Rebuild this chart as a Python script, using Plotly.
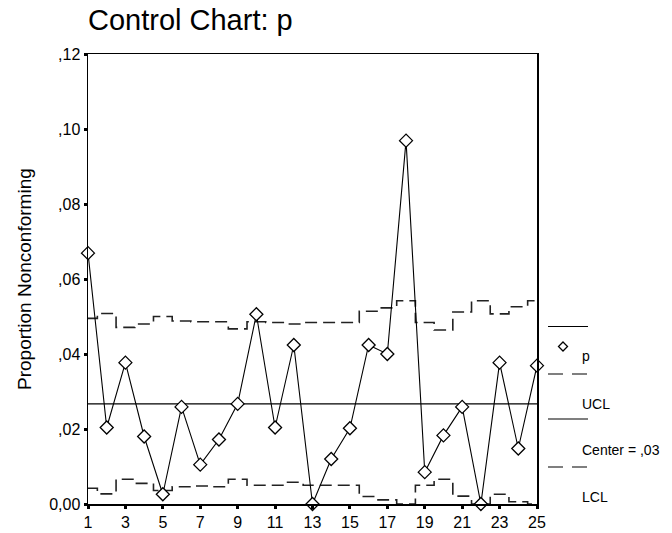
import plotly.graph_objects as go

# ---- data ----
subgroups = list(range(1, 26))
p_values = [0.0669, 0.0204, 0.0377, 0.0180, 0.0026, 0.0259, 0.0105, 0.0172, 0.0267, 0.0506,
            0.0204, 0.0424, 0.0000, 0.0120, 0.0202, 0.0424, 0.0400, 0.0969, 0.0085, 0.0183,
            0.0259, 0.0000, 0.0377, 0.0148, 0.0369]
ucl_values = [0.0495, 0.0508, 0.0471, 0.0480, 0.0500, 0.0488, 0.0486, 0.0486, 0.0467, 0.0486,
              0.0484, 0.0480, 0.0484, 0.0484, 0.0484, 0.0514, 0.0523, 0.0542, 0.0484, 0.0464,
              0.0512, 0.0542, 0.0507, 0.0526, 0.0542]
lcl_values = [0.0042, 0.0027, 0.0066, 0.0055, 0.0036, 0.0046, 0.0048, 0.0046, 0.0066, 0.0050,
              0.0050, 0.0058, 0.0050, 0.0050, 0.0050, 0.0020, 0.0011, 0.0000, 0.0050, 0.0066,
              0.0021, 0.0000, 0.0026, 0.0006, 0.0000]
center_value = 0.0267

x_tickvals = [1, 3, 5, 7, 9, 11, 13, 15, 17, 19, 21, 23, 25]
x_ticktext = ["1", "3", "5", "7", "9", "11", "13", "15", "17", "19", "21", "23", "25"]
y_tickvals = [0.00, 0.02, 0.04, 0.06, 0.08, 0.10, 0.12]
y_ticktext = ["0,00", ",02", ",04", ",06", ",08", ",10", ",12"]

title_text = "Control Chart: p"
y_title = "Proportion Nonconforming"
legend_labels = ["p", "UCL", "Center = ,03", "LCL"]

FONT = "Liberation Sans, Arial, sans-serif"
DASH = "12px,6px"

# page layout (body margin removed by post_script, figure fills the window)
PLOT_L, PLOT_R, PLOT_T, PLOT_B = 88, 537, 54, 504
FIG_W, FIG_H = 672, 533
PW, PH = PLOT_R - PLOT_L, PLOT_B - PLOT_T


def px(xp):
    return (xp - PLOT_L) / PW


def py(yp):
    return (PLOT_B - yp) / PH


fig = go.Figure()

fig.add_trace(go.Scatter(x=subgroups, y=ucl_values, mode="lines", line_shape="hvh",
                         line=dict(color="#222", width=1.6, dash=DASH), hoverinfo="skip"))
fig.add_trace(go.Scatter(x=subgroups, y=lcl_values, mode="lines", line_shape="hvh",
                         line=dict(color="#222", width=1.6, dash=DASH), hoverinfo="skip"))
fig.add_trace(go.Scatter(x=[subgroups[0], subgroups[-1]], y=[center_value, center_value],
                         mode="lines", line=dict(color="black", width=1.2), hoverinfo="skip"))
fig.add_trace(go.Scatter(x=subgroups, y=p_values, mode="lines+markers",
                         line=dict(color="black", width=1.1),
                         marker=dict(symbol="diamond", size=10, color="white",
                                     line=dict(color="black", width=1.3)),
                         cliponaxis=False))

shapes = []
for yy, dash in [(326.5, "solid"), (374, "15px,9px"), (419, "solid"), (467, "15px,9px")]:
    shapes.append(dict(type="line", xref="paper", yref="paper", x0=px(548), x1=px(588),
                       y0=py(yy), y1=py(yy), line=dict(color="black", width=1.2, dash=dash)))
# legend diamond
cx, cy, r = 563, 346.5, 4.5
path = "M {} {} L {} {} L {} {} L {} {} Z".format(
    px(cx), py(cy - r), px(cx + r), py(cy), px(cx), py(cy + r), px(cx - r), py(cy))
shapes.append(dict(type="path", xref="paper", yref="paper", path=path,
                   fillcolor="white", line=dict(color="black", width=1.3)))

annotations = [
    dict(text=title_text, xref="paper", yref="paper", x=px(86), y=py(20),
         xanchor="left", yanchor="middle", showarrow=False,
         font=dict(family=FONT, size=29, color="black")),
    dict(text=y_title, xref="paper", yref="paper", x=px(24), y=py(279), textangle=-90,
         xanchor="center", yanchor="middle", showarrow=False,
         font=dict(family=FONT, size=19, color="black")),
]
for label, yy in zip(legend_labels, [356, 404, 450, 497]):
    annotations.append(dict(text=label, xref="paper", yref="paper", x=px(580), y=py(yy),
                            xanchor="left", yanchor="middle", showarrow=False,
                            font=dict(family=FONT, size=14, color="black")))

fig.update_layout(
    template="none",
    width=FIG_W, height=FIG_H,
    margin=dict(l=PLOT_L, r=FIG_W - PLOT_R, t=PLOT_T, b=FIG_H - PLOT_B, pad=0,
                autoexpand=False),
    paper_bgcolor="white", plot_bgcolor="white",
    showlegend=False,
    hovermode=False,
    font=dict(family=FONT, size=16, color="black"),
    xaxis=dict(range=[1, 25], tickvals=x_tickvals, ticktext=x_ticktext, automargin=False,
               showgrid=False, zeroline=False, showline=True, mirror=True,
               linecolor="black", linewidth=1.5, ticks="outside", ticklen=3, tickwidth=3,
               tickcolor="black", tickfont=dict(size=16)),
    yaxis=dict(range=[0, 0.12], tickvals=y_tickvals, ticktext=y_ticktext, automargin=False,
               showgrid=False, zeroline=False, showline=True, mirror=True,
               linecolor="black", linewidth=1.5, ticks="outside", ticklen=3, tickwidth=3,
               tickcolor="black", tickfont=dict(size=16)),
    shapes=shapes,
    annotations=annotations,
)

fig.write_html("out.html",
               config={"displayModeBar": False, "staticPlot": True},
               post_script="document.body.style.margin='0';"
                           "document.body.style.overflow='hidden';")
